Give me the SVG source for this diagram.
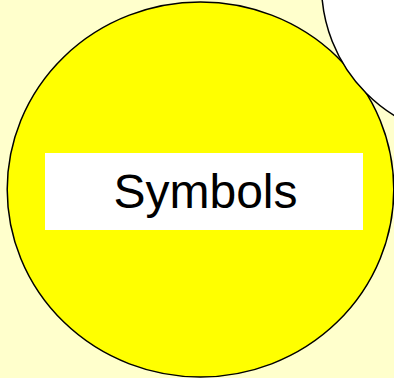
<svg xmlns="http://www.w3.org/2000/svg" width="394" height="378" viewBox="0 0 394 378">
<style>
.shape{stroke:#000;stroke-width:1.5}
.label{font-family:"Liberation Sans",Arial,sans-serif;font-size:48px;fill:#000;text-anchor:middle}
</style>
<rect x="0" y="0" width="394" height="378" fill="#FFFFCC"/>
<g id="symbols">
<ellipse class="shape" cx="200.5" cy="189.5" rx="193.3" ry="187.5" fill="#FFFF00"/>
</g>
<g id="other">
<circle class="shape" cx="475" cy="-15" r="153.5" fill="#FFFFFF"/>
</g>
<g id="symbols-label">
<rect x="45" y="153" width="318" height="77" fill="#FFFFFF"/>
<text class="label" x="205.5" y="208">Symbols</text>
</g>
</svg>
